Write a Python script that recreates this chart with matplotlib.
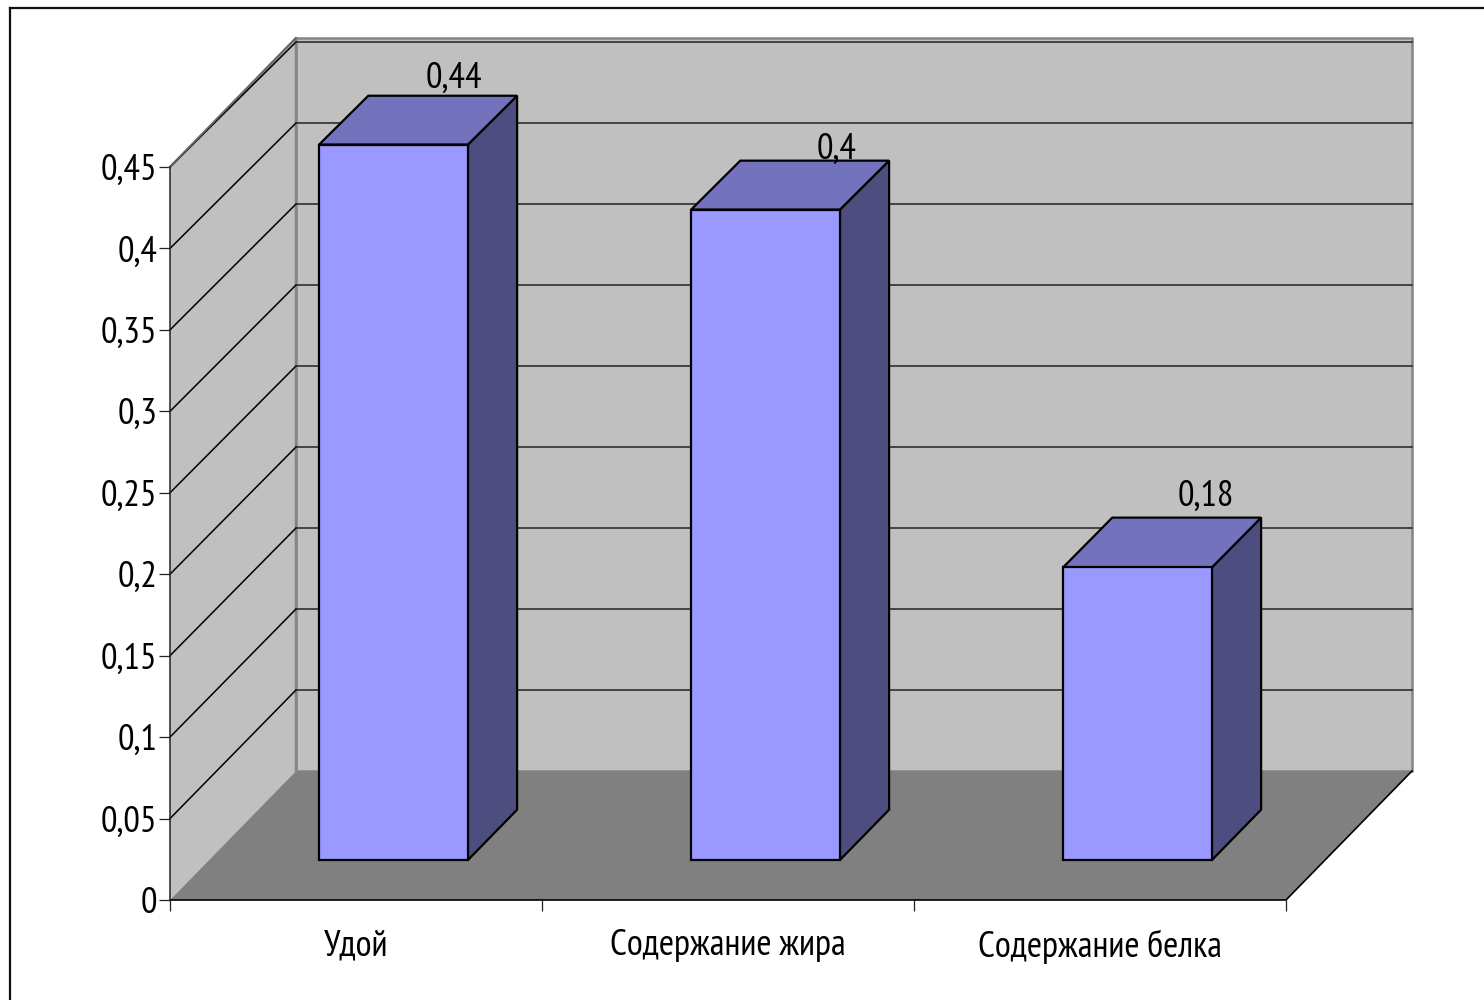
import matplotlib
matplotlib.use("Agg")
import matplotlib.pyplot as plt
from matplotlib.lines import Line2D
from matplotlib.patches import Polygon

categories = ["Удой", "Содержание жира", "Содержание белка"]
values = [0.44, 0.40, 0.18]
value_labels = ["0,44", "0,4", "0,18"]
y_ticks = [0, 0.05, 0.1, 0.15, 0.2, 0.25, 0.3, 0.35, 0.4, 0.45]
y_tick_labels = ["0", "0,05", "0,1", "0,15", "0,2", "0,25", "0,3", "0,35", "0,4", "0,45"]

W, H = 1484, 1000
X0, X1, Y0, Y1 = 170, 1286, 900, 167  # front plane in pixels
YMAX = 0.45
PX_X = (X1 - X0) / 3
PX_Y = (Y0 - Y1) / YMAX
DX, DY = 126 / PX_X, 129 / PX_Y  # depth vector in data units
SHRINK = 0.0055  # back wall is a touch shorter than the front plane
BAR_W = 0.4
BAR_SHIFT = -1.5 / PX_X
Z0, Z1 = 0.31, 0.70  # bar front/back as fraction of depth
LABEL_OFF = [(60, 66), (71, 60), (68, 71)]  # px from top of front face centre
FS = 26.5
WALL, FLOOR, WALL_EDGE = "#c0c0c0", "#808080", "#858585"
FRONT, TOP, SIDE = "#9999ff", "#7373bd", "#4d4d80"

plt.rcParams["font.family"] = ["PT Sans Narrow", "Roboto Condensed", "Liberation Sans Narrow", "Liberation Sans"]
fig = plt.figure(figsize=(W / 100, H / 100), dpi=100, facecolor="white")
ax = fig.add_axes([X0 / W, 1 - Y0 / H, (X1 - X0) / W, (Y0 - Y1) / H])
ax.set_xlim(0, 3); ax.set_ylim(0, YMAX)
ax.patch.set_visible(False)
for s in ax.spines.values():
    s.set_visible(False)


def yp(v, z):
    # height v at depth fraction z, in front-plane data units
    return v * (1 - SHRINK * z) + DY * z


def poly(pts, fc, ec="none", lw=0, z=1):
    ax.add_patch(Polygon(pts, closed=True, fc=fc, ec=ec, lw=lw, zorder=z,
                         clip_on=False, joinstyle="miter"))


# walls and floor
poly([(DX, DY), (3 + DX, DY), (3 + DX, YMAX + DY), (DX, YMAX + DY)], WALL, WALL_EDGE, 1.8)
poly([(0, 0), (DX, DY), (DX, YMAX + DY), (0, YMAX)], WALL)
poly([(0, 0), (3, 0), (3 + DX, DY), (DX, DY)], FLOOR, z=1.5)
ax.plot([0, DX, DX], [YMAX, YMAX + DY, DY], color=WALL_EDGE, lw=1.8, clip_on=False, zorder=2)

# gridlines run along the side wall then across the back
for v in y_ticks[1:]:
    ax.plot([0, DX], [v, yp(v, 1)], color="black", lw=1.1, clip_on=False, zorder=2)
    ax.plot([DX, 3 + DX], [yp(v, 1)] * 2, color="#222222", lw=1.1, clip_on=False, zorder=2)
ax.plot([0, DX], [YMAX, YMAX + DY], color="#666666", lw=1.2, clip_on=False, zorder=2.1)

# floor edges
ax.plot([0, 3, 3 + DX], [0, 0, DY], color="black", lw=1.2, clip_on=False, zorder=2.5)
ax.plot([0, 0], [0, YMAX], color="#222222", lw=1.1, clip_on=False, zorder=2.5)

# bars
for i, v in enumerate(values):
    xl = i + 0.5 - BAR_W / 2 + Z0 * DX + BAR_SHIFT
    xr = xl + BAR_W
    ddx = (Z1 - Z0) * DX
    yb0, yb1 = yp(0, Z0), yp(0, Z1)
    yt0, yt1 = yp(v, Z0), yp(v, Z1)
    poly([(xr, yb0), (xr + ddx, yb1), (xr + ddx, yt1), (xr, yt0)], SIDE, "black", 1.6, 3)
    poly([(xl, yt0), (xr, yt0), (xr + ddx, yt1), (xl + ddx, yt1)], TOP, "black", 1.6, 3)
    ax.bar(xl + BAR_W / 2, yt0 - yb0, width=BAR_W, bottom=yb0, color=FRONT, edgecolor="black",
           lw=1.6, zorder=4, clip_on=False)
    ox, oy = LABEL_OFF[i]
    ax.annotate(value_labels[i], (xl + BAR_W / 2, yt0), xytext=(ox, oy), textcoords="offset pixels",
                ha="center", va="center", fontsize=FS, color="black", zorder=5, annotation_clip=False)

# ticks
ax.set_yticks(y_ticks, y_tick_labels, fontsize=FS)
ax.set_xticks([0, 1, 2, 3], [])
ax.set_xticks([0.5, 1.5, 2.5], categories, minor=True, fontsize=FS)
ax.tick_params(axis="both", which="major", length=8, width=0.9, color="#222222", pad=1)
ax.tick_params(axis="x", which="minor", length=0, pad=21)

# slide frame: only top and left edges show
fig.add_artist(Line2D([10 / W, 10 / W], [0, 1 - 8 / H], color="#111111", lw=1.6))
fig.add_artist(Line2D([10 / W, 1], [1 - 8 / H, 1 - 8 / H], color="#111111", lw=1.6))

fig.savefig("out.png", dpi=100, facecolor="white")
